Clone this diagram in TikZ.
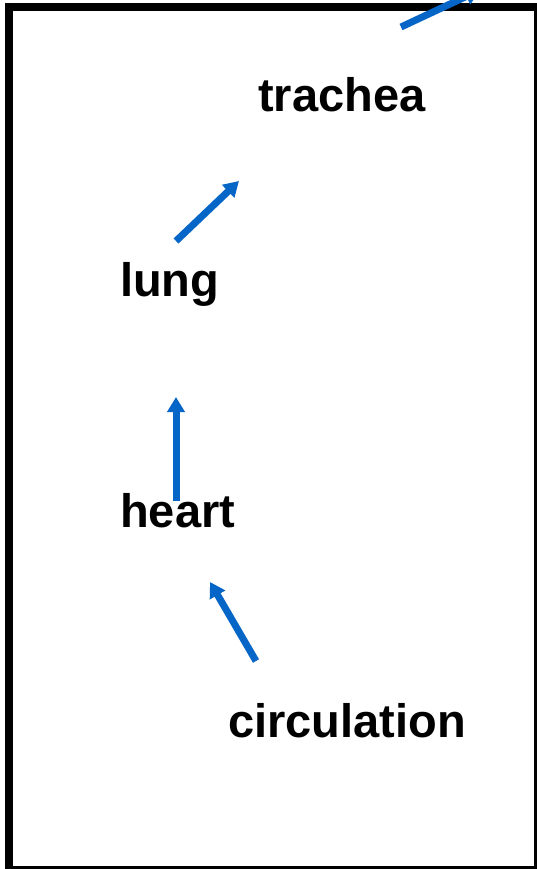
\documentclass[tikz,border=0pt]{standalone}
\usepackage{fontspec}
\setmainfont{Liberation Sans}
\usetikzlibrary{arrows.meta,calc}
\definecolor{flowblue}{RGB}{5,102,200}
\tikzset{
  organ/.style={anchor=base west, inner sep=0pt, font=\fontsize{47}{50}\selectfont\bfseries},
  flow/.style={draw=flowblue, line width=7pt, -{Triangle[length=15pt,width=17pt]}}
}
\begin{document}
\begin{tikzpicture}[x=1pt,y=-1pt]
  \useasboundingbox (0,0) rectangle (537,869);
  \clip (0,0) rectangle (537,869);
  \fill[white] (0,0) rectangle (537,869);
  % frame
  \draw[line width=8pt] (8.7,7.5) rectangle (537.5,869.5);
  % labels
  \node[organ] (trachea) at (258,112) {trachea};
  \node[organ] (lung) at (120,296) {lung};
  \node[organ] (heart) at (120,527) {heart};
  \node[organ] (circ) at (228,737) {circulation};
  % arrow ends
  \coordinate (c1) at (256,661);
  \coordinate (h1) at (210,582);
  \coordinate (h2) at (176,501);
  \coordinate (l1) at (176,397);
  \coordinate (l2) at (176,241);
  \coordinate (t1) at (239,181);
  \coordinate (t2) at (401,27);
  \coordinate (t3) at (480,-10);
  % connectors
  \draw[flow] (c1) -- (h1);
  \draw[flow] (h2) -- (l1);
  \draw[flow] (l2) -- (t1);
  \draw[flow] (t2) -- (t3);
\end{tikzpicture}
\end{document}
